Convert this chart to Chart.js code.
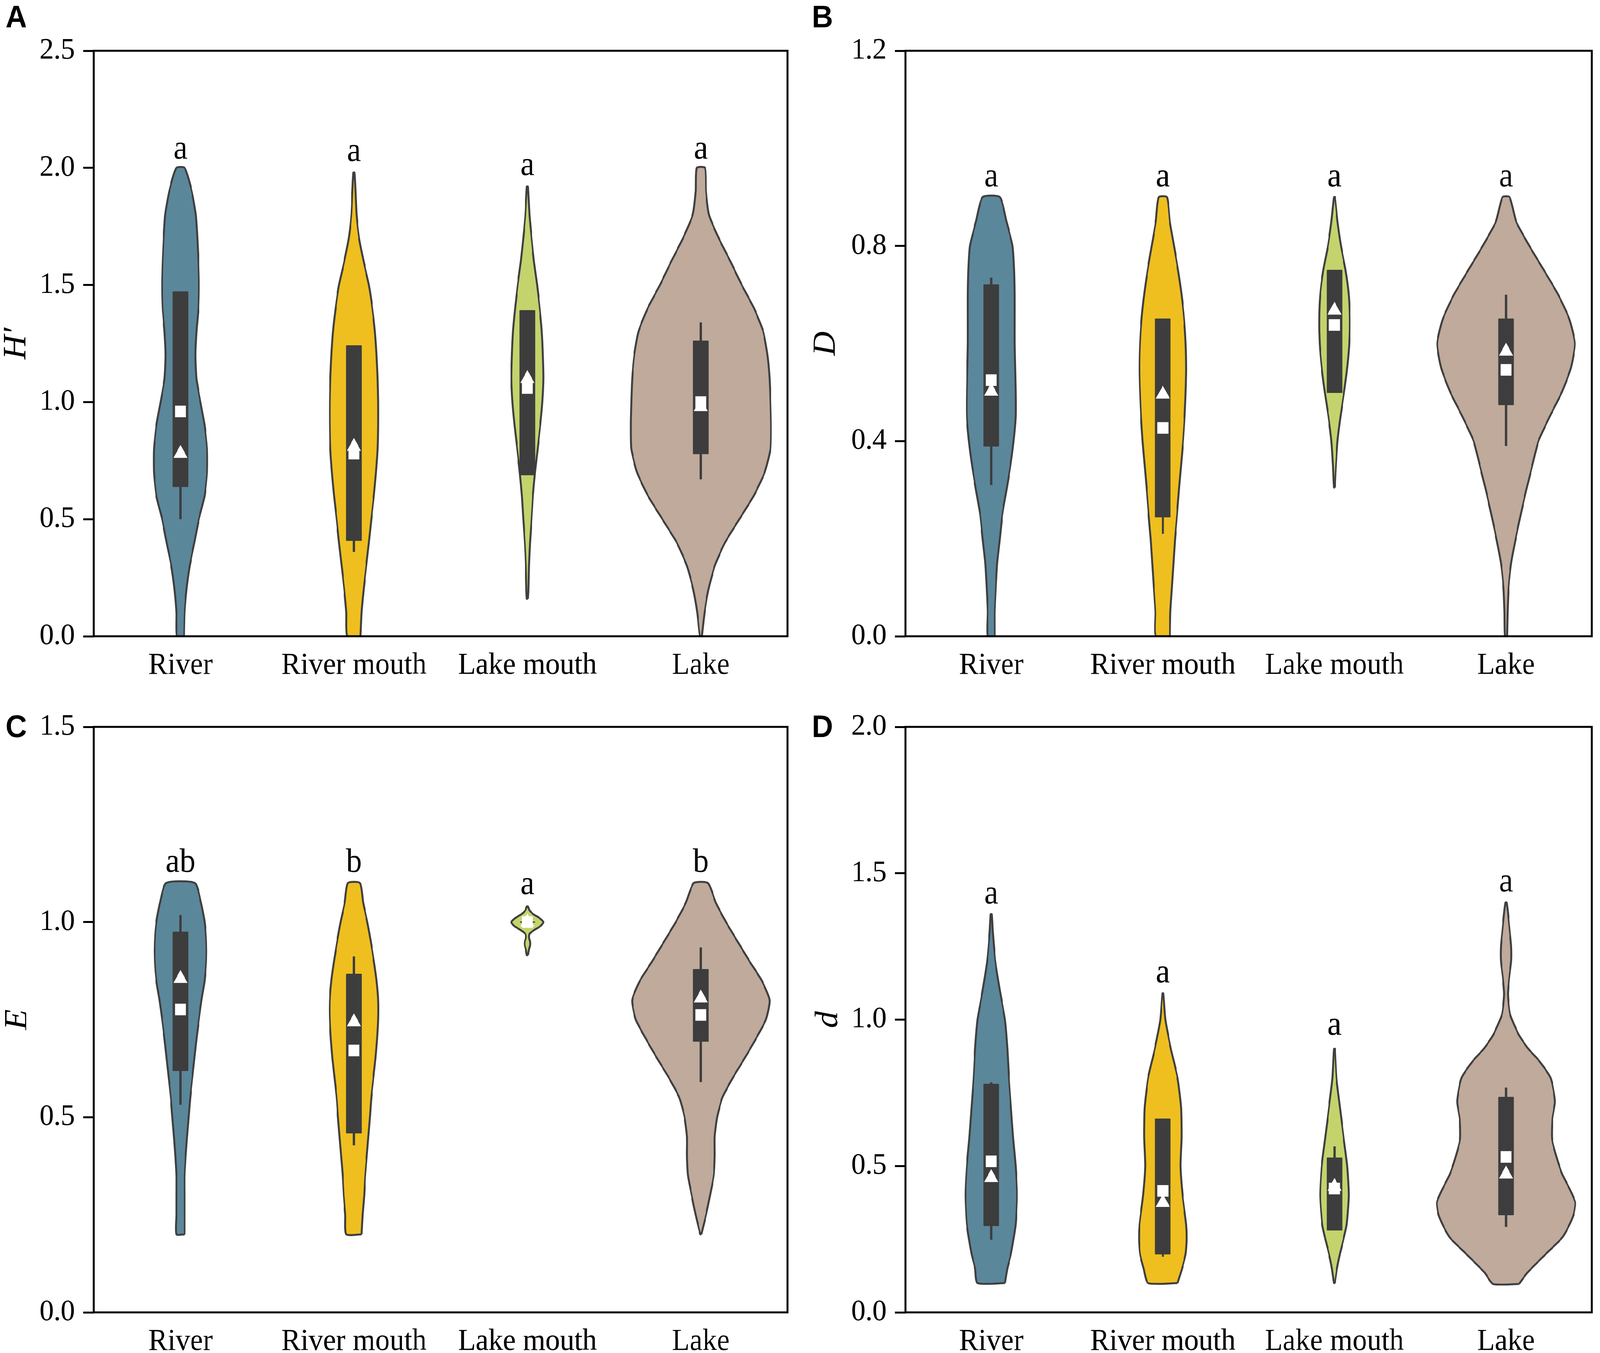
<!DOCTYPE html>
<html>
<head>
<meta charset="utf-8">
<script src="https://cdn.jsdelivr.net/npm/chart.js@4.4.1/dist/chart.umd.min.js"></script>
<style>
  html, body { margin: 0; padding: 0; background: #fff; overflow: hidden; }
  #figure { position: absolute; left: 0; top: 0; width: 4317px; height: 3464px; transform-origin: 0 0; }
  .panel { position: absolute; }
</style>
</head>
<body>
<div id="figure">
<div class="panel" style="left:0px;top:0px"><canvas id="chartA" width="2160" height="1732"></canvas></div>
<div class="panel" style="left:2160px;top:0px"><canvas id="chartB" width="2157" height="1732"></canvas></div>
<div class="panel" style="left:0px;top:1732px"><canvas id="chartC" width="2160" height="1732"></canvas></div>
<div class="panel" style="left:2160px;top:1732px"><canvas id="chartD" width="2157" height="1732"></canvas></div>
</div>
<script>
const categories = ['River', 'River mouth', 'Lake mouth', 'Lake'];

// violin outlines: [value, half width in category units]
// A: H'
const shannonRiver = [[0,0.021],[0.1,0.024],[0.2,0.035],[0.3,0.053],[0.4,0.080],[0.5,0.106],[0.6,0.139],[0.7,0.153],[0.8,0.153],[0.9,0.139],[1.0,0.115],[1.1,0.092],[1.2,0.086],[1.3,0.092],[1.4,0.103],[1.5,0.106],[1.6,0.103],[1.7,0.097],[1.8,0.088],[1.9,0.065],[2.0,0.024]];
const shannonRiverMouth = [[0,0.038],[0.1,0.044],[0.2,0.056],[0.3,0.071],[0.4,0.086],[0.5,0.100],[0.6,0.115],[0.7,0.127],[0.8,0.136],[0.9,0.139],[1.0,0.139],[1.1,0.136],[1.2,0.130],[1.3,0.121],[1.4,0.106],[1.5,0.086],[1.6,0.056],[1.7,0.030],[1.8,0.015],[1.9,0.009],[1.98,0.003]];
const shannonLakeMouth = [[0.16,0.003],[0.2,0.006],[0.3,0.009],[0.4,0.015],[0.5,0.024],[0.6,0.032],[0.7,0.044],[0.8,0.059],[0.9,0.074],[1.0,0.086],[1.1,0.092],[1.2,0.089],[1.3,0.083],[1.4,0.071],[1.5,0.056],[1.6,0.038],[1.7,0.024],[1.8,0.012],[1.92,0.003]];
const shannonLake = [[0,0.006],[0.1,0.021],[0.2,0.044],[0.3,0.080],[0.4,0.139],[0.5,0.222],[0.6,0.305],[0.7,0.368],[0.8,0.401],[0.9,0.404],[1.0,0.401],[1.1,0.396],[1.2,0.384],[1.3,0.360],[1.4,0.307],[1.5,0.236],[1.6,0.171],[1.7,0.103],[1.8,0.047],[1.9,0.030],[2.0,0.024]];
const shannonQ1 = [0.64, 0.41, 0.69, 0.78];
const shannonQ3 = [1.47, 1.24, 1.39, 1.26];
const shannonLow = [0.50, 0.36, 0.69, 0.67];
const shannonHigh = [1.47, 1.24, 1.39, 1.34];
const shannonSquare = [0.96, 0.78, 1.06, 1.00];
const shannonTriangle = [0.78, 0.81, 1.10, 0.98];
const shannonLetters = ['a', 'a', 'a', 'a'];
const shannonLetterY = [2.04, 2.03, 1.97, 2.04];
const shannonTicks = [0, 0.5, 1.0, 1.5, 2.0, 2.5];

// B: D
const simpsonRiver = [[0,0.021],[0.05,0.021],[0.1,0.027],[0.15,0.035],[0.2,0.050],[0.25,0.065],[0.3,0.089],[0.35,0.112],[0.4,0.130],[0.45,0.142],[0.5,0.142],[0.55,0.139],[0.6,0.136],[0.65,0.136],[0.7,0.136],[0.75,0.133],[0.8,0.124],[0.85,0.089],[0.9,0.050]];
const simpsonRiverMouth = [[0,0.041],[0.05,0.044],[0.1,0.053],[0.15,0.062],[0.2,0.071],[0.25,0.083],[0.3,0.094],[0.35,0.106],[0.4,0.118],[0.45,0.127],[0.5,0.133],[0.55,0.136],[0.6,0.133],[0.65,0.124],[0.7,0.109],[0.75,0.089],[0.8,0.065],[0.85,0.041],[0.9,0.024]];
const simpsonLakeMouth = [[0.305,0.003],[0.35,0.009],[0.4,0.018],[0.45,0.035],[0.5,0.056],[0.55,0.074],[0.6,0.086],[0.65,0.089],[0.7,0.083],[0.75,0.065],[0.8,0.038],[0.85,0.018],[0.9,0.003]];
const simpsonLake = [[0,0.006],[0.05,0.009],[0.1,0.015],[0.15,0.030],[0.2,0.056],[0.25,0.086],[0.3,0.118],[0.35,0.153],[0.4,0.189],[0.45,0.254],[0.5,0.325],[0.55,0.378],[0.6,0.401],[0.65,0.369],[0.7,0.304],[0.75,0.221],[0.8,0.136],[0.85,0.059],[0.9,0.021]];
const simpsonQ1 = [0.39, 0.245, 0.50, 0.475];
const simpsonQ3 = [0.72, 0.65, 0.75, 0.65];
const simpsonLow = [0.31, 0.21, 0.50, 0.39];
const simpsonHigh = [0.735, 0.65, 0.75, 0.70];
const simpsonSquare = [0.525, 0.427, 0.638, 0.546];
const simpsonTriangle = [0.502, 0.496, 0.668, 0.584];
const simpsonLetters = ['a', 'a', 'a', 'a'];
const simpsonLetterY = [0.922, 0.922, 0.922, 0.922];
const simpsonTicks = [0, 0.4, 0.8, 1.2];

// C: E
const evennessRiver = [[0.2,0.024],[0.25,0.024],[0.3,0.024],[0.35,0.024],[0.4,0.030],[0.45,0.038],[0.5,0.047],[0.55,0.056],[0.6,0.068],[0.65,0.080],[0.7,0.092],[0.75,0.106],[0.8,0.121],[0.85,0.139],[0.9,0.148],[0.95,0.148],[1.0,0.139],[1.05,0.118],[1.1,0.083]];
const evennessRiverMouth = [[0.2,0.044],[0.25,0.050],[0.3,0.059],[0.35,0.065],[0.4,0.074],[0.45,0.083],[0.5,0.092],[0.55,0.100],[0.6,0.112],[0.65,0.124],[0.7,0.133],[0.75,0.139],[0.8,0.139],[0.85,0.130],[0.9,0.115],[0.95,0.097],[1.0,0.077],[1.05,0.053],[1.1,0.035]];
const evennessLakeMouth = [[0.915,0.003],[0.93,0.009],[0.94,0.015],[0.95,0.015],[0.96,0.009],[0.97,0.012],[0.98,0.041],[0.99,0.077],[1.0,0.092],[1.01,0.071],[1.02,0.035],[1.03,0.012],[1.04,0.003]];
const evennessLake = [[0.2,0.003],[0.25,0.030],[0.3,0.053],[0.35,0.074],[0.4,0.080],[0.45,0.080],[0.5,0.094],[0.55,0.124],[0.6,0.183],[0.65,0.251],[0.7,0.316],[0.75,0.375],[0.8,0.396],[0.85,0.351],[0.9,0.280],[0.95,0.212],[1.0,0.145],[1.05,0.086],[1.1,0.041]];
const evennessQ1 = [0.62, 0.46, 1.0, 0.695];
const evennessQ3 = [0.974, 0.866, 1.0, 0.878];
const evennessLow = [0.532, 0.428, 1.0, 0.59];
const evennessHigh = [1.018, 0.912, 1.0, 0.935];
const evennessSquare = [0.776, 0.671, 1.0, 0.762];
const evennessTriangle = [0.855, 0.744, 1.0, 0.805];
const evennessLetters = ['ab', 'b', 'a', 'b'];
const evennessLetterY = [1.129, 1.129, 1.072, 1.129];
const evennessTicks = [0, 0.5, 1.0, 1.5];

// D: d
const margalefRiver = [[0.1,0.080],[0.15,0.094],[0.2,0.115],[0.3,0.142],[0.4,0.150],[0.5,0.142],[0.6,0.127],[0.7,0.115],[0.8,0.103],[0.9,0.094],[1.0,0.080],[1.1,0.050],[1.2,0.024],[1.3,0.009],[1.36,0.003]];
const margalefRiverMouth = [[0.1,0.086],[0.15,0.112],[0.2,0.133],[0.25,0.139],[0.3,0.136],[0.4,0.115],[0.5,0.103],[0.6,0.109],[0.7,0.106],[0.8,0.086],[0.9,0.047],[1.0,0.015],[1.09,0.003]];
const margalefLakeMouth = [[0.1,0.003],[0.15,0.015],[0.2,0.032],[0.25,0.053],[0.3,0.071],[0.4,0.083],[0.5,0.074],[0.6,0.053],[0.7,0.032],[0.8,0.012],[0.9,0.003]];
const margalefLake = [[0.097,0.076],[0.136,0.125],[0.196,0.226],[0.255,0.327],[0.3,0.37],[0.335,0.394],[0.375,0.403],[0.414,0.377],[0.473,0.327],[0.533,0.293],[0.592,0.268],[0.661,0.270],[0.721,0.285],[0.8,0.26],[0.86,0.192],[0.9,0.13],[0.949,0.074],[1.018,0.024],[1.087,0.011],[1.15,0.02],[1.2,0.03],[1.25,0.03],[1.3,0.022],[1.365,0.011],[1.4,0.003]];
const margalefQ1 = [0.297, 0.20, 0.282, 0.334];
const margalefQ3 = [0.779, 0.66, 0.527, 0.734];
const margalefLow = [0.248, 0.19, 0.282, 0.292];
const margalefHigh = [0.786, 0.66, 0.567, 0.768];
const margalefSquare = [0.516, 0.415, 0.423, 0.531];
const margalefTriangle = [0.46, 0.375, 0.43, 0.472];
const margalefLetters = ['a', 'a', 'a', 'a'];
const margalefLetterY = [1.397, 1.127, 0.949, 1.438];
const margalefTicks = [0, 0.5, 1.0, 1.5, 2.0];

// styles
const fills = ['#5b879b', '#efbf1f', '#c5d36d', '#bfaa9b'];
const edgeColor = '#3f3f3f';
const boxColor = '#3d3d3d';
const BOX_HALF = 0.042;
const serif = '"Liberation Serif", "Times New Roman", serif';
Chart.defaults.font.family = serif;
Chart.defaults.color = '#000';

// the window is narrower than 4317, so squeeze the figure into what is there
const fig = document.getElementById('figure');
const sx = window.innerWidth / 4317, sy = window.innerHeight / 3464;
fig.style.transform = 'scale(' + sx + ',' + sy + ')';

function outline(profile, i) {
  const right = profile.map(([y, w]) => ({ x: i + w, y }));
  const left = profile.slice().reverse().map(([y, w]) => ({ x: i - w, y }));
  return right.concat(left, [right[0]]);
}

function buildDatasets(p) {
  const sets = [];
  p.violins.forEach((prof, i) => {
    sets.push({
      type: 'line', data: outline(prof, i), order: 5,
      backgroundColor: fills[i], borderColor: edgeColor, borderWidth: 5,
      fill: 'shape', tension: 0.2, pointRadius: 0, borderJoinStyle: 'round'
    });
    sets.push({
      type: 'line', order: 3,
      data: [
        { x: i - BOX_HALF, y: p.q1[i] }, { x: i + BOX_HALF, y: p.q1[i] },
        { x: i + BOX_HALF, y: p.q3[i] }, { x: i - BOX_HALF, y: p.q3[i] },
        { x: i - BOX_HALF, y: p.q1[i] }
      ],
      backgroundColor: boxColor, borderColor: boxColor, borderWidth: 3,
      borderJoinStyle: 'round', fill: 'shape', tension: 0, pointRadius: 0
    });
    if (p.low[i] < p.q1[i]) {
      sets.push({ type: 'line', order: 4, data: [{ x: i, y: p.low[i] }, { x: i, y: p.q1[i] }],
        borderColor: boxColor, borderWidth: 6, pointRadius: 0, fill: false });
    }
    if (p.high[i] > p.q3[i]) {
      sets.push({ type: 'line', order: 4, data: [{ x: i, y: p.q3[i] }, { x: i, y: p.high[i] }],
        borderColor: boxColor, borderWidth: 6, pointRadius: 0, fill: false });
    }
  });
  sets.push({
    type: 'scatter', order: 1, data: p.square.map((v, i) => ({ x: i, y: v })),
    pointStyle: 'rect', pointRadius: 21, pointBackgroundColor: '#fff', pointBorderWidth: 0
  });
  sets.push({
    type: 'scatter', order: 0, data: p.triangle.map((v, i) => ({ x: i, y: v })),
    pointStyle: 'triangle', pointRadius: 22, pointBackgroundColor: '#fff', pointBorderWidth: 0
  });
  return sets;
}

const decor = {
  id: 'decor',
  afterDatasetsDraw(chart, args, opts) {
    const { ctx, scales: { x, y } } = chart;
    ctx.save();
    ctx.fillStyle = '#000';
    ctx.font = '86px ' + serif;
    ctx.textAlign = 'center';
    ctx.textBaseline = 'alphabetic';
    opts.letters.forEach((t, i) => {
      ctx.fillText(t, x.getPixelForValue(i), y.getPixelForValue(opts.letterY[i]));
    });
    ctx.restore();
  },
  afterDraw(chart, args, opts) {
    const { ctx, chartArea: a } = chart;
    ctx.save();
    ctx.strokeStyle = '#000';
    ctx.lineWidth = 5;
    ctx.strokeRect(a.left, a.top, a.right - a.left, a.bottom - a.top);
    ctx.fillStyle = '#000';
    ctx.font = 'bold 80px "Liberation Sans", Arial, sans-serif';
    ctx.textAlign = 'left';
    ctx.textBaseline = 'alphabetic';
    ctx.fillText(opts.tag, opts.tagX, opts.tagY);
    ctx.restore();
  }
};

const panels = [
  { id: 'chartA', tag: 'A', title: 'H\u2032', max: 2.5, ticks: shannonTicks,
    violins: [shannonRiver, shannonRiverMouth, shannonLakeMouth, shannonLake],
    q1: shannonQ1, q3: shannonQ3, low: shannonLow, high: shannonHigh,
    square: shannonSquare, triangle: shannonTriangle, letters: shannonLetters, letterY: shannonLetterY,
    axisWidth: 253, padTop: 130, padRight: 35, xHeight: 103, titlePad: 2, tagX: 15, tagY: 70 },
  { id: 'chartB', tag: 'B', title: 'D', max: 1.2, ticks: simpsonTicks,
    violins: [simpsonRiver, simpsonRiverMouth, simpsonLakeMouth, simpsonLake],
    q1: simpsonQ1, q3: simpsonQ3, low: simpsonLow, high: simpsonHigh,
    square: simpsonSquare, triangle: simpsonTriangle, letters: simpsonLetters, letterY: simpsonLetterY,
    axisWidth: 283, padTop: 130, padRight: 7, xHeight: 103, titlePad: 26, tagX: 30, tagY: 70 },
  { id: 'chartC', tag: 'C', title: 'E', max: 1.5, ticks: evennessTicks,
    violins: [evennessRiver, evennessRiverMouth, evennessLakeMouth, evennessLake],
    q1: evennessQ1, q3: evennessQ3, low: evennessLow, high: evennessHigh,
    square: evennessSquare, triangle: evennessTriangle, letters: evennessLetters, letterY: evennessLetterY,
    axisWidth: 253, padTop: 129, padRight: 35, xHeight: 104, titlePad: 5, tagX: 15, tagY: 155 },
  { id: 'chartD', tag: 'D', title: 'd', max: 2.0, ticks: margalefTicks,
    violins: [margalefRiver, margalefRiverMouth, margalefLakeMouth, margalefLake],
    q1: margalefQ1, q3: margalefQ3, low: margalefLow, high: margalefHigh,
    square: margalefSquare, triangle: margalefTriangle, letters: margalefLetters, letterY: margalefLetterY,
    axisWidth: 283, padTop: 129, padRight: 7, xHeight: 104, titlePad: 33, tagX: 30, tagY: 155 }
];

panels.forEach(p => {
  new Chart(document.getElementById(p.id), {
    type: 'scatter',
    data: { datasets: buildDatasets(p) },
    plugins: [decor],
    options: {
      responsive: false,
      animation: false,
      devicePixelRatio: 1,
      layout: { padding: { left: 0, top: p.padTop, right: p.padRight, bottom: 0 } },
      plugins: {
        legend: { display: false },
        tooltip: { enabled: false },
        decor: { tag: p.tag, tagX: p.tagX, tagY: p.tagY, letters: p.letters, letterY: p.letterY }
      },
      scales: {
        x: {
          type: 'linear', min: -0.5, max: 3.5,
          grid: { display: false },
          border: { display: false },
          afterBuildTicks: s => { s.ticks = categories.map((c, i) => ({ value: i })); },
          afterFit: s => { s.height = p.xHeight; },
          ticks: {
            font: { size: 78, lineHeight: 1.2 }, padding: 21, maxRotation: 0, autoSkip: false,
            callback: v => categories[v]
          }
        },
        y: {
          type: 'linear', min: 0, max: p.max,
          grid: { drawOnChartArea: false, drawTicks: true, tickLength: 28, tickWidth: 5, tickColor: '#000' },
          border: { display: false },
          afterBuildTicks: s => { s.ticks = p.ticks.map(v => ({ value: v })); },
          afterFit: s => { s.width = p.axisWidth; },
          ticks: { font: { size: 76 }, padding: 23, callback: v => v.toFixed(1) },
          title: {
            display: true, text: p.title,
            font: { size: 86, style: 'italic', lineHeight: 1 },
            padding: { top: p.titlePad, bottom: 0 }
          }
        }
      }
    }
  });
});
</script>
</body>
</html>
